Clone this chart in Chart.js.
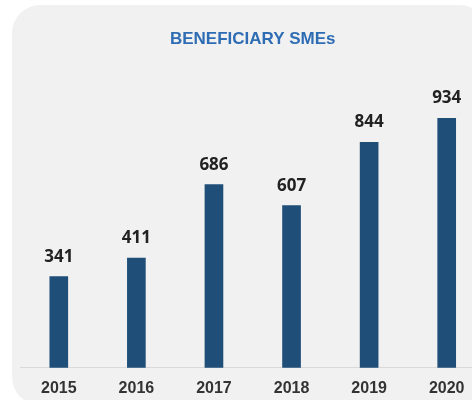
<!DOCTYPE html>
<html>
<head>
<meta charset="utf-8">
<script src="https://cdn.jsdelivr.net/npm/chart.js@4.4.1/dist/chart.umd.min.js"></script>
<style>
  html, body { margin: 0; padding: 0; background: #fff; overflow: hidden; width: 472px; height: 400px; }
  #panel { position: absolute; left: 12px; top: 5px; width: 476px; height: 400px; background: #f1f1f1; border-radius: 28px; }
  #wrap { position: absolute; left: 0; top: 0; width: 490px; height: 400px; }
</style>
</head>
<body>
<div id="panel"></div>
<div id="wrap"><canvas id="smeChart" width="490" height="400"></canvas></div>
<script>
// data
var years = ["2015", "2016", "2017", "2018", "2019", "2020"];
var beneficiaries = [341, 411, 686, 607, 844, 934];

//- value labels above the bars -
var valueLabels = {
  id: "valueLabels",
  afterDatasetsDraw: function (chart) {
    var ctx = chart.ctx;
    var meta = chart.getDatasetMeta(0);
    ctx.save();
    ctx.font = "bold 17px 'Open Sans'";
    ctx.fillStyle = "#222222";
    ctx.textAlign = "center";
    ctx.textBaseline = "alphabetic";
    meta.data.forEach(function (bar, i) {
      ctx.fillText(chart.data.datasets[0].data[i], bar.x, bar.y - 15);
    });
    ctx.restore();
  }
};

var ctx = document.getElementById("smeChart").getContext("2d");
var smeChart = new Chart(ctx, {
  type: "bar",
  data: {
    labels: years,
    datasets: [{
      label: "Beneficiary SMEs",
      data: beneficiaries,
      backgroundColor: "#1f4e79",
      barThickness: 18
    }]
  },
  options: {
    responsive: false,
    animation: false,
    layout: { padding: { left: 20, right: 4.5, top: 0, bottom: 0 } },
    plugins: {
      legend: { display: false },
      tooltip: { enabled: false },
      title: {
        display: true,
        text: "BENEFICIARY SMEs",
        color: "#2e6db4",
        font: { family: "'Liberation Sans', Arial", size: 17, weight: "bold", lineHeight: 1.2 },
        padding: { top: 28.8, bottom: 51.5 }
      }
    },
    scales: {
      x: {
        grid: { display: false, drawTicks: false },
        border: { display: true, color: "#d9d9d9", width: 1 },
        ticks: {
          color: "#333333",
          padding: 11,
          font: { family: "'Liberation Sans', Arial", size: 16, weight: "bold" }
        },
        afterFit: function (scale) { scale.height = 32.3; }
      },
      y: {
        display: false,
        min: 0,
        max: 1000
      }
    }
  },
  plugins: [valueLabels]
});
</script>
</body>
</html>
